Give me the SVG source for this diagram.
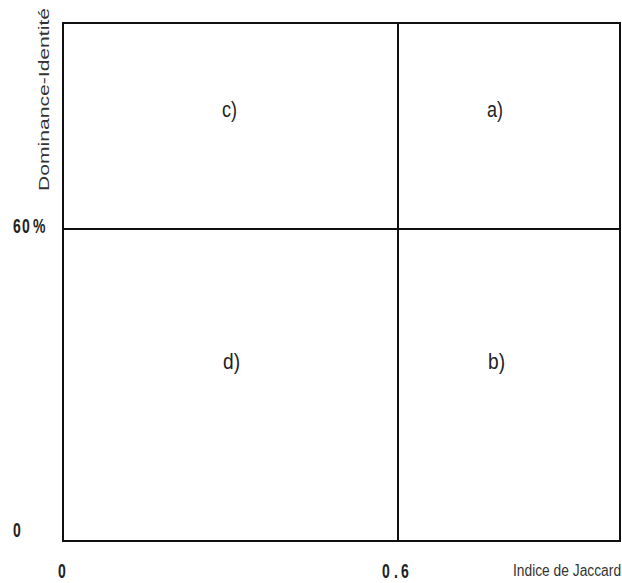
<svg xmlns="http://www.w3.org/2000/svg" width="622" height="583" viewBox="0 0 622 583">
<style>
.ln{stroke:#111;stroke-width:2;fill:none}
.q{font-family:"Liberation Sans",Arial,sans-serif;font-size:22px;fill:#222}
.ax{font-family:"Liberation Sans",Arial,sans-serif;font-size:20px;font-weight:bold;fill:#222}
.lab{font-family:"Liberation Sans",Arial,sans-serif;font-size:15px;fill:#333}
</style>
<rect width="622" height="583" fill="#fff"/>
<g id="connectors">
<rect class="ln" x="63" y="23" width="557" height="518"/>
<line class="ln" x1="398" y1="23" x2="398" y2="541"/>
<line class="ln" x1="63" y1="229" x2="620" y2="229"/>
</g>
<g id="c"><text class="q" x="222" y="117" textLength="15" lengthAdjust="spacingAndGlyphs">c)</text></g>
<g id="a"><text class="q" x="487" y="117" textLength="16" lengthAdjust="spacingAndGlyphs">a)</text></g>
<g id="d"><text class="q" x="223" y="369" textLength="17" lengthAdjust="spacingAndGlyphs">d)</text></g>
<g id="b"><text class="q" x="488" y="369" textLength="17" lengthAdjust="spacingAndGlyphs">b)</text></g>
<g id="yaxis">
<text class="lab" transform="translate(49,191) rotate(-90)" textLength="183" lengthAdjust="spacingAndGlyphs">Dominance-Identité</text>
<text class="ax" transform="scale(0.7,1)" x="18.6 31.4 47.1" y="233">60%</text>
<text class="ax" transform="scale(0.7,1)" x="18.6" y="537">0</text>
</g>
<g id="xaxis">
<text class="ax" transform="scale(0.7,1)" x="82.9" y="578">0</text>
<text class="ax" transform="scale(0.7,1)" x="545.7 563 573" y="578">0.6</text>
<text class="lab" transform="translate(513,576) scale(0.92,1.08)" x="0" y="0">Indice de Jaccard</text>
</g>
</svg>
